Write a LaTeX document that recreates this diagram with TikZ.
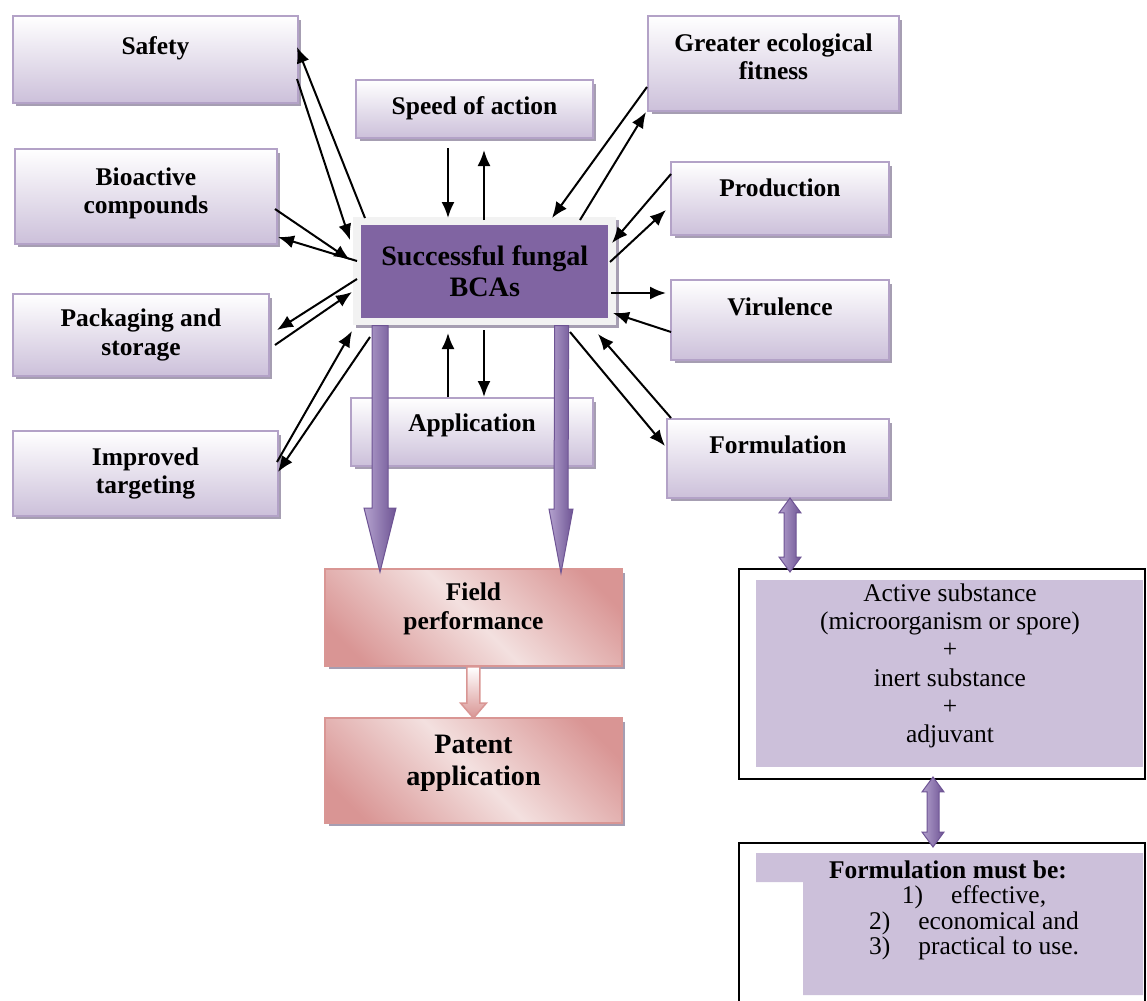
\documentclass[tikz,border=0pt]{standalone}
\usepackage{fontspec}
\setmainfont{Liberation Serif}
\usetikzlibrary{arrows.meta,shadows}

\definecolor{boxline}{RGB}{179,162,199}
\definecolor{boxfill}{RGB}{204,192,218}
\definecolor{boxshade}{RGB}{166,158,178}
\definecolor{bcapurple}{RGB}{128,100,162}
\definecolor{bcaframe}{RGB}{242,242,242}
\definecolor{pinkline}{RGB}{217,150,148}
\definecolor{pinklight}{RGB}{243,224,223}
\definecolor{pinkdark}{RGB}{217,149,148}
\definecolor{arrowlight}{RGB}{180,162,206}
\definecolor{arrowdark}{RGB}{110,84,148}
\definecolor{panefill}{RGB}{204,192,218}

\pgfdeclarehorizontalshading{pinkband}{100bp}{color(0bp)=(pinkdark); color(22bp)=(pinkdark); color(50bp)=(pinklight); color(78bp)=(pinkdark); color(100bp)=(pinkdark)}

\tikzstyle{factor} = [draw=boxline, line width=0.04cm, top color=white, bottom color=boxfill, anchor=north west, align=center, font=\fontsize{14.5}{16}\selectfont\bfseries, drop shadow={shadow xshift=0.07cm, shadow yshift=-0.07cm, fill=boxshade, opacity=1}]
\tikzstyle{result} = [draw=pinkline, line width=0.04cm, shading=pinkband, shading angle=45, anchor=north west, align=center, drop shadow={shadow xshift=0.07cm, shadow yshift=-0.07cm, fill=boxshade, opacity=1}]
\tikzstyle{frame} = [draw=black, line width=0.04cm, fill=white, anchor=north west]
\tikzstyle{link} = [-{Latex[length=0.32cm,width=0.26cm]}, line width=0.04cm]

\tikzset{
  fat/.style n args={3}{to path={
      ([xshift=-#1]\tikztostart) -- ([xshift=-#1,yshift=#3]\tikztotarget)
      -- ([xshift=-#2,yshift=#3]\tikztotarget) -- (\tikztotarget)
      -- ([xshift=#2,yshift=#3]\tikztotarget) -- ([xshift=#1,yshift=#3]\tikztotarget)
      -- ([xshift=#1]\tikztostart) -- cycle}},
  twoway/.style n args={3}{to path={
      (\tikztostart) -- ([xshift=#2,yshift=-#3]\tikztostart) -- ([xshift=#1,yshift=-#3]\tikztostart)
      -- ([xshift=#1,yshift=#3]\tikztotarget) -- ([xshift=#2,yshift=#3]\tikztotarget)
      -- (\tikztotarget) -- ([xshift=-#2,yshift=#3]\tikztotarget) -- ([xshift=-#1,yshift=#3]\tikztotarget)
      -- ([xshift=-#1,yshift=-#3]\tikztostart) -- ([xshift=-#2,yshift=-#3]\tikztostart) -- cycle}}
}

\begin{document}
\begin{tikzpicture}[x=0.02cm, y=-0.02cm]
\useasboundingbox (0,0) rectangle (1147,1001);
\clip (0,0) rectangle (1147,1001);

%factors on the left
\node[factor, minimum width=5.70cm, minimum height=1.74cm, text depth=0.55cm] (safety) at (12,15) {Safety};
\node[factor, minimum width=5.24cm, minimum height=1.90cm, text depth=0.25cm] (bioactive) at (14,148) {Bioactive\\compounds};
\node[factor, minimum width=5.12cm, minimum height=1.64cm] (packaging) at (12,293) {Packaging and\\storage};
\node[factor, minimum width=5.30cm, minimum height=1.70cm] (targeting) at (12,430) {Improved\\targeting};

%factors above and below
\node[factor, minimum width=4.74cm, minimum height=1.16cm, text depth=0.13cm] (speed) at (355,79) {Speed of action};
\node[factor, minimum width=4.84cm, minimum height=1.36cm, text depth=0.37cm] (application) at (350,397) {Application};

%factors on the right
\node[factor, minimum width=5.02cm, minimum height=1.90cm, text depth=0.28cm] (fitness) at (647,15) {Greater ecological\\fitness};
\node[factor, minimum width=4.36cm, minimum height=1.46cm, text depth=0.43cm] (production) at (670,161) {Production};
\node[factor, minimum width=4.36cm, minimum height=1.60cm, text depth=0.53cm] (virulence) at (670,279) {Virulence};
\node[factor, minimum width=4.44cm, minimum height=1.58cm, text depth=0.55cm] (formulation) at (666,418) {Formulation};

%field and patent
\node[result, minimum width=5.94cm, minimum height=1.94cm, text depth=0.46cm, font=\fontsize{14.5}{16.5}\selectfont\bfseries] (field) at (324,568) {Field\\performance};
\node[result, minimum width=5.94cm, minimum height=2.10cm, text depth=0.42cm, font=\fontsize{16}{18}\selectfont\bfseries] (patent) at (324,717) {Patent\\application};

%centre
\node[anchor=north west, fill=bcaframe, minimum width=5.26cm, minimum height=2.16cm, drop shadow={shadow xshift=0.06cm, shadow yshift=-0.06cm, fill=boxshade, opacity=1}] (central) at (353,217) {};
\coordinate (bca left) at ([shift={(27,0)}]central.south west);
\coordinate (bca right) at ([shift={(-55,0)}]central.south east);
\coordinate (field left) at ([shift={(56,4)}]field.north west);
\coordinate (field right) at ([shift={(237,5)}]field.north west);
\shadedraw[fat={0.16cm}{0.32cm}{1.28cm}, left color=arrowlight, right color=arrowdark, draw=arrowdark, line width=0.02cm] (bca left) to (field left);
\shadedraw[fat={0.14cm}{0.24cm}{1.28cm}, left color=arrowlight, right color=arrowdark, draw=arrowdark, line width=0.02cm] (bca right) to (field right);
\node[fill=bcapurple, minimum width=4.94cm, minimum height=1.86cm, align=center, font=\fontsize{16}{18}\selectfont\bfseries] (bca) at (central.center) {Successful fungal\\BCAs};

%field to patent
\coordinate (field out) at (field.south);
\coordinate (patent in) at ([shift={(0,1)}]patent.north);
\shadedraw[fat={0.13cm}{0.26cm}{0.30cm}, top color=white, bottom color=pinkdark, draw=pinkline, line width=0.03cm] (field out) to (patent in);

%formulation content
\node[frame, minimum width=8.12cm, minimum height=4.20cm] (active) at (738,568) {};
\node[fill=panefill, minimum width=7.74cm, minimum height=3.74cm] (activepane) at (949.5,673.5) {};
\node[align=center, font=\fontsize{14.5}{16.1}\selectfont] (activetext) at (950,666) {Active substance\\(microorganism or spore)\\+\\inert substance\\+\\adjuvant};
\node[frame, minimum width=8.12cm, minimum height=3.40cm] (must) at (738,842) {};
\fill[panefill] (756,853) -- (1143,853) -- (1143,995) -- (803,995) -- (803,882) -- (756,882) -- cycle;
\node[inner sep=0pt, font=\fontsize{14.5}{16}\selectfont\bfseries] (musthead) at (948,870) {Formulation must be:};
\node[inner sep=0pt, align=center, font=\fontsize{14.5}{14.6}\selectfont] (mustlist) at (974,923) {1)\hspace{1.1em}effective,\\2)\hspace{1.1em}economical and\\3)\hspace{1.1em}practical to use.};

\coordinate (form out) at ([shift={(124,-1)}]formulation.south west);
\coordinate (active in) at ([shift={(52,4)}]active.north west);
\coordinate (active out) at ([shift={(195,-3)}]active.south west);
\coordinate (must in) at ([shift={(195,5)}]must.north west);
\shadedraw[twoway={0.12cm}{0.22cm}{0.30cm}, left color=arrowlight, right color=arrowdark, draw=arrowdark, line width=0.02cm] (form out) to (active in);
\shadedraw[twoway={0.12cm}{0.22cm}{0.30cm}, left color=arrowlight, right color=arrowdark, draw=arrowdark, line width=0.02cm] (active out) to (must in);

%arrows to and from the centre
\draw[link] ([shift={(285,64)}]safety.north west) -- ([shift={(-3,23)}]central.north west);
\draw[link] ([shift={(12,1)}]central.north west) -- ([shift={(285,32)}]safety.north west);
\draw[link] ([shift={(261,61)}]bioactive.north west) -- ([shift={(-3,43)}]central.north west);
\draw[link] ([shift={(4,44)}]central.north west) -- ([shift={(264,89)}]bioactive.north west);
\draw[link] ([shift={(4,62)}]central.north west) -- ([shift={(265,37)}]packaging.north west);
\draw[link] ([shift={(263,52)}]packaging.north west) -- ([shift={(-1,75)}]central.north west);
\draw[link] ([shift={(265,32)}]targeting.north west) -- ([shift={(-1,114)}]central.north west);
\draw[link] ([shift={(17,120)}]central.north west) -- ([shift={(266,42)}]targeting.north west);
\draw[link] ([shift={(93,69)}]speed.north west) -- ([shift={(95,1)}]central.north west);
\draw[link] ([shift={(131,3)}]central.north west) -- ([shift={(129,71)}]speed.north west);
\draw[link] ([shift={(98,0)}]application.north west) -- ([shift={(95,116)}]central.north west);
\draw[link] ([shift={(131,113)}]central.north west) -- ([shift={(134,0)}]application.north west);
\draw[link] ([shift={(0,72)}]fitness.north west) -- ([shift={(199,1)}]central.north west);
\draw[link] ([shift={(227,3)}]central.north west) -- ([shift={(-1,97)}]fitness.north west);
\draw[link] ([shift={(1,13)}]production.north west) -- ([shift={(259,26)}]central.north west);
\draw[link] ([shift={(257,45)}]central.north west) -- ([shift={(-4,49)}]production.north west);
\draw[link] ([shift={(258,76)}]central.north west) -- ([shift={(-4,14)}]virulence.north west);
\draw[link] ([shift={(1,53)}]virulence.north west) -- ([shift={(260,96)}]central.north west);
\draw[link] ([shift={(5,0)}]formulation.north west) -- ([shift={(245,117)}]central.north west);
\draw[link] ([shift={(217,115)}]central.north west) -- ([shift={(-1,28)}]formulation.north west);
\end{tikzpicture}
\end{document}
